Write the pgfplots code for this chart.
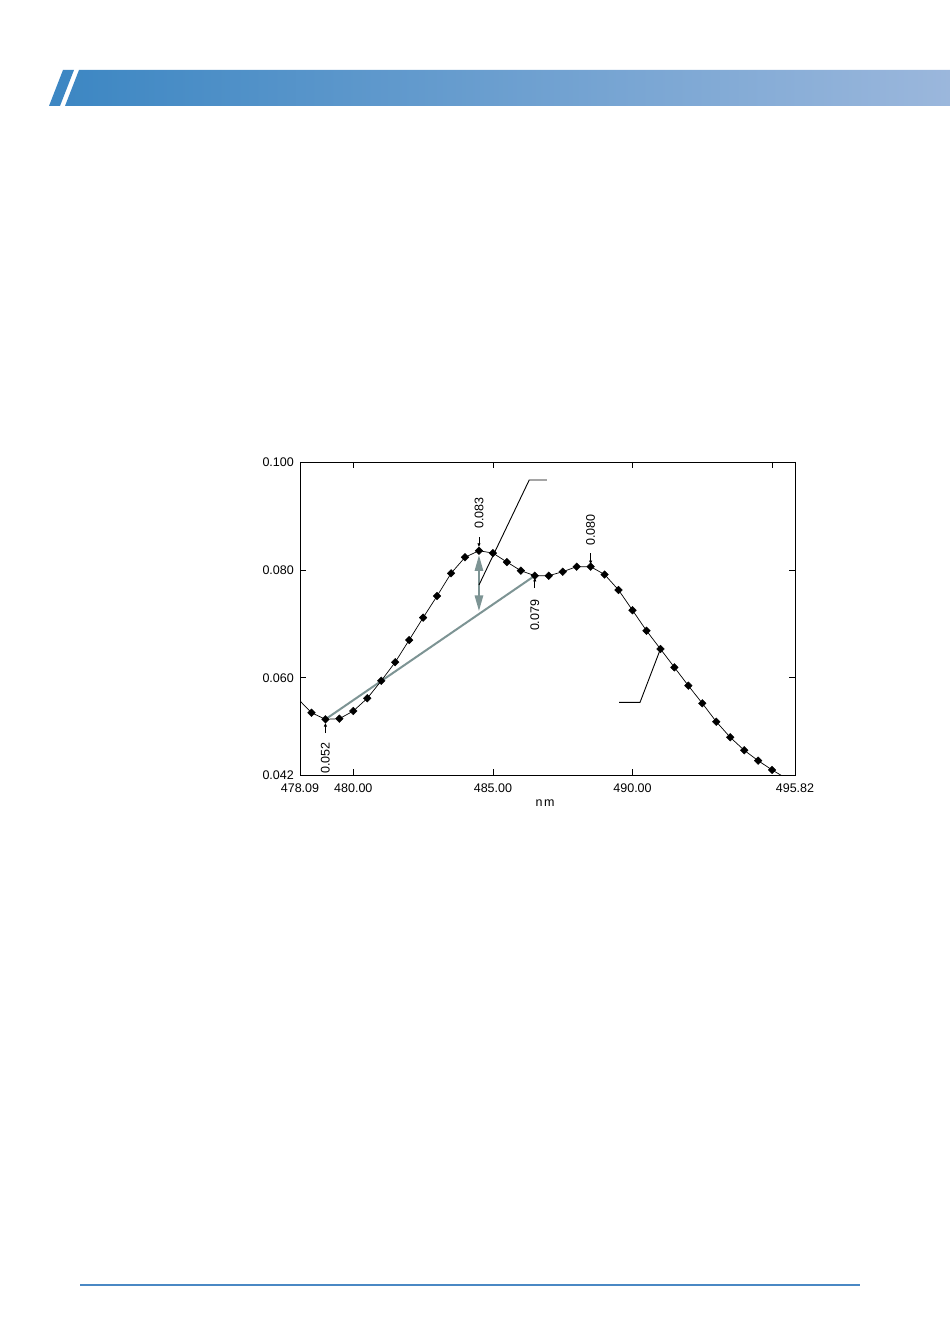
\documentclass[border=0pt]{standalone}
\usepackage{fontspec}
\setmainfont{Liberation Sans}
\usepackage{pgfplots}
\pgfplotsset{compat=1.18}
\usepackage{pgfplotstable}
\usetikzlibrary{arrows.meta}
\definecolor{bannerL}{RGB}{61,135,195}
\definecolor{bannerR}{RGB}{155,183,220}
\definecolor{basegray}{RGB}{125,148,148}
\definecolor{ruleblue}{RGB}{74,136,196}

\pgfplotstableread{
x y
478.0 0.0562
478.5 0.05354
479.0 0.05232
479.5 0.05243
480.0 0.05386
480.5 0.05621
481.0 0.05945
481.5 0.06291
482.0 0.06701
482.5 0.07115
483.0 0.07517
483.5 0.07937
484.0 0.08234
484.5 0.08356
485.0 0.08312
485.5 0.08146
486.0 0.07986
486.5 0.07893
487.0 0.07893
487.5 0.07967
488.0 0.08060
488.5 0.08060
489.0 0.07915
489.5 0.07628
490.0 0.07252
490.5 0.06874
491.0 0.06535
491.5 0.06195
492.0 0.05855
492.5 0.05528
493.0 0.05188
493.5 0.04898
494.0 0.04658
494.5 0.04465
495.0 0.04293
495.5 0.0414
}\spectrum

\newcommand{\lblfont}{\fontsize{12.5}{14}\selectfont}

\begin{document}
\begin{tikzpicture}[x=1pt,y=1pt]
\path[use as bounding box] (0,0) rectangle (950,1344);
\fill[white] (0,0) rectangle (950,1344);
% banner
\shade[left color=bannerL,right color=bannerR] (65,1238) -- (79,1274) -- (950,1274) -- (950,1238) -- cycle;
\fill[bannerL] (49,1238) -- (60,1238) -- (74,1274) -- (63,1274) -- cycle;
% bottom rule
\draw[ruleblue, line width=2pt] (80,59) -- (860,59);

\begin{axis}[
  at={(300pt,569pt)}, anchor=south west,
  width=495pt, height=313pt, scale only axis,
  xmin=478.09, xmax=495.82, ymin=0.042, ymax=0.100,
  clip mode=individual,
  axis line style={black, line width=0.9pt},
  xtick={478.09,480,485,490,495.82},
  xticklabels={478.09,480.00,485.00,490.00,495.82},
  ytick={0.042,0.06,0.08,0.1},
  yticklabels={0.042,0.060,0.080,0.100},
  xtick pos=both, ytick pos=both,
  xticklabel pos=lower, yticklabel pos=left,
  tick align=inside,
  major tick length=6pt,
  tick style={black, line width=0.8pt},
  tick label style={font=\lblfont, inner sep=0pt},
  xticklabel style={anchor=north, yshift=-9pt},
  yticklabel style={anchor=east, xshift=-6pt},
  scaled ticks=false,
]
% baseline
\addplot[basegray, line width=2pt] coordinates {(479.0,0.05232) (486.5,0.07893)};
% spectrum line
\addplot[black, line width=0.7pt] table[x=x,y=y] {\spectrum};
% markers
\addplot[only marks, restrict x to domain=478.3:495.2, mark=square*, mark size=2.7pt,
  mark options={rotate=45, fill=black, draw=black}] table[x=x,y=y] {\spectrum};
% double arrow
\addplot[basegray, line width=2.6pt,
  {Triangle[width=8pt,length=16pt]}-{Triangle[width=8pt,length=16pt]}]
  coordinates {(484.5,0.0828) (484.5,0.0723)};
% callout lines
\addplot[black, line width=0.9pt] coordinates {(484.5,0.0772) (486.30,0.09666) (486.93,0.09666)};
\addplot[black, line width=0.9pt] coordinates {(491.0,0.06535) (490.27,0.05547) (489.52,0.05547)};
% small label arrows
\addplot[black, line width=0.8pt, -{Latex[length=4pt,width=3.5pt]}] coordinates {(484.5,0.0861) (484.5,0.0842)};
\addplot[black, line width=0.8pt, -{Latex[length=4pt,width=3.5pt]}] coordinates {(488.5,0.0831) (488.5,0.0810)};
\addplot[black, line width=0.8pt, -{Latex[length=4pt,width=3.5pt]}] coordinates {(486.5,0.07665) (486.5,0.0786)};
\addplot[black, line width=0.8pt, -{Latex[length=4pt,width=3.5pt]}] coordinates {(479.0,0.04978) (479.0,0.0517)};
% top tick at 495
\addplot[black, line width=0.8pt] coordinates {(495,0.100) (495,0.0989)};
% value labels
\node[rotate=90, font=\lblfont, inner sep=0pt] at (axis cs:484.5,0.09055) {0.083};
\node[rotate=90, font=\lblfont, inner sep=0pt] at (axis cs:488.5,0.0874) {0.080};
\node[rotate=90, font=\lblfont, inner sep=0pt] at (axis cs:486.5,0.07159) {0.079};
\node[rotate=90, font=\lblfont, inner sep=0pt] at (axis cs:479.0,0.04515) {0.052};
\end{axis}
\node[font=\lblfont, inner sep=0pt] at (545,541) {n\hspace{1.5pt}m};
\end{tikzpicture}
\end{document}
